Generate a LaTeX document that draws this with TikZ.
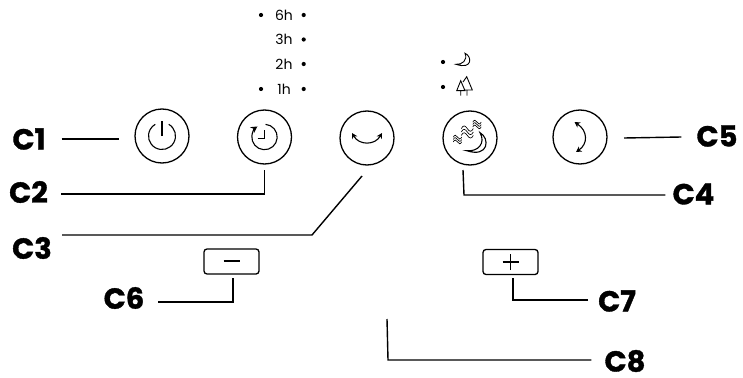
\documentclass[tikz,border=0pt]{standalone}
\usepackage{fontspec}
\setmainfont{Poppins}
\newfontfamily\calloutfont[BoldFeatures={FakeBold=1.2}]{Poppins}
\usetikzlibrary{arrows.meta}
\tikzset{
    button/.style={draw, circle, line width=1.3pt, minimum size=54pt, inner sep=0pt, outer sep=0pt},
    key/.style={draw, rounded corners=3pt, line width=1.3pt, minimum width=55pt, minimum height=25pt, inner sep=0pt, outer sep=0pt},
    callout/.style={font=\fontsize{29}{29}\calloutfont\bfseries, inner sep=0pt, text=black},
    lead/.style={line width=1.4pt},
    icon/.style={line width=1.1pt},
    tip/.style={{Stealth[length=5.5pt,width=6pt]}-{Stealth[length=5.5pt,width=6pt]}},
    hours/.style={font=\fontsize{14}{14}\selectfont, inner sep=0pt},
    dot/.style={circle, fill=black, inner sep=0pt, minimum size=4.2pt},
    pics/waves/.style={code={
        \foreach \dy in {-3.4,0,3.4}
            \draw [line width=.65pt] (-6,\dy) .. controls (-4,\dy+4) and (-2,\dy+3) .. (0,\dy) .. controls (2,\dy-3) and (4,\dy-4) .. (6,\dy);
    }}
}
\begin{document}
\begin{tikzpicture}[x=1pt,y=1pt]
    \useasboundingbox (0,0) rectangle (743,-377);

    \node[button] (power) at (162,-136) {};
    \node[button] (timer) at (264.5,-137) {};
    \node[button] (swingh) at (367,-138) {};
    \node[button] (night) at (470,-138) {};
    \node[button] (swingv) at (580,-137) {};
    \node[key] (minus) at (231.5,-261.5) {};
    \node[key] (plus) at (510.5,-262) {};

    \node[callout] (c1) at (29,-139) {C1};
    \node[callout] (c2) at (28.5,-192) {C2};
    \node[callout] (c3) at (32,-248) {C3};
    \node[callout] (c4) at (693.5,-194) {C4};
    \node[callout] (c5) at (717,-136) {C5};
    \node[callout] (c6) at (124,-298) {C6};
    \node[callout] (c7) at (617,-301) {C7};
    \node[callout] (c8) at (625,-361) {C8};

    % free ends of the leader lines
    \coordinate (c3tip) at (362,-176);
    \coordinate (c8tip) at (387,-319);

    \draw [lead] ([shift={(16,0)}]c1.east) -- ([xshift=-16pt,yshift=-3pt]power.west);
    \draw [lead] ([shift={(13,-2)}]c2.east) -| ([yshift=-6pt]timer.south);
    \draw [lead] ([shift={(10,13)}]c3.east) -- (312,-235) -- (c3tip);
    \draw [lead] ([shift={(-7,-5)}]night.south) -- ++(1,-25) -- ([shift={(-7,-1)}]c4.west);
    \draw [lead] ([shift={(17,-1)}]swingv.east) -- ([shift={(-15,-1)}]c5.west);
    \draw [lead] ([shift={(14,-4)}]c6.east) -| ([xshift=1.5pt,yshift=-4pt]minus.south);
    \draw [lead] ([shift={(-10,1)}]c7.west) -| ([xshift=2.5pt,yshift=-3pt]plus.south);
    \draw [lead] ([shift={(-13,1)}]c8.west) -- (388,-360) -- (c8tip);

    % timer marks
    \foreach \y/\h in {15/6h, 39.5/3h, 64/2h, 89/1h} {
        \node[hours] (h\h) at (284,-\y) {\h};
        \node[dot] (r\h) at (303.7,-\y) {};
    }
    \node[dot] (l6h) at (261,-15) {};
    \node[dot] (l1h) at (261,-89) {};
    \node[dot] (lmoon) at (443,-62) {};
    \node[dot] (ltree) at (443,-87) {};

    % power
    \draw [icon] (power.center) ++(60:13.5) arc (60:-240:13.5);
    \draw [icon] (power.center) -- ++(0,15);

    % timer
    \draw [icon, -{Stealth[length=6.5pt,width=7pt]}] (timer.center) ++(85:12.7) arc (85:-236:12.7);
    \draw [icon] (timer.center) ++(-7,-1.3) -- ++(7,0) -- ++(0,8.8);

    % swing arrows
    \begin{scope}[shift={(swingh)}]
        \draw [icon, tip] (-15,5) .. controls (-8,-7.5) and (8,-7.5) .. (15,5);
    \end{scope}
    \begin{scope}[shift={(swingv)}]
        \draw [icon, tip] (-5.5,15) .. controls (8,6) and (8,-7) .. (-4,-15);
    \end{scope}

    % night mode
    \draw [icon] (480,-132.7) .. controls (490,-138) and (489,-158) .. (466.7,-150.7) .. controls (478,-152) and (486,-143) .. cycle;
    \pic at (467.3,-132) {waves};
    \pic[scale=.7] at (457.5,-139.5) {waves};
    \pic[scale=.7] at (477,-124.5) {waves};

    % small marks
    \draw [icon, line width=.9pt] (465,-53.3) .. controls (472,-56) and (473,-70) .. (456,-64.3) .. controls (462,-65) and (468,-60) .. cycle;
    \draw [icon, line width=.9pt] (460.7,-80.7) -- (456.7,-90.7) -- (465,-90.7) -- cycle (460.7,-90.7) -- ++(0,-5);
    \draw [icon, line width=.9pt] (463,-82) -- (466.7,-76.7) -- (472.3,-90) -- (463.5,-90) (467,-90) -- ++(0,-5.7);

    % keys
    \draw [icon] (minus.center) ++(-8,0.5) -- ++(16,0);
    \draw [icon] (plus.center) ++(-8,0) -- ++(16,0) (plus.center) ++(0,-8) -- ++(0,16);
\end{tikzpicture}
\end{document}
